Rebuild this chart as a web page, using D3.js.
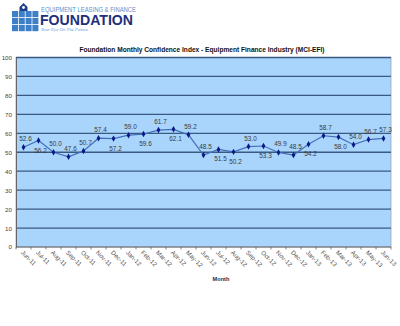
<!DOCTYPE html>
<html>
<head>
<meta charset="utf-8">
<script src="https://cdn.jsdelivr.net/npm/d3@7/dist/d3.min.js"></script>
<style>
  html, body { margin: 0; padding: 0; background: #ffffff; }
  svg { display: block; font-family: "Liberation Sans", Arial, sans-serif; }
</style>
</head>
<body>
<svg id="chart" width="400" height="326"></svg>
<script>
// Monthly index readings, June 2011 through June 2013
const months = ["Jun-11","Jul-11","Aug-11","Sep-11","Oct-11","Nov-11","Dec-11",
  "Jan-12","Feb-12","Mar-12","Apr-12","May-12","Jun-12","Jul-12","Aug-12","Sep-12",
  "Oct-12","Nov-12","Dec-12","Jan-13","Feb-13","Mar-13","Apr-13","May-13","Jun-13"];
const mciValues = [52.6, 56.2, 50.0, 47.6, 50.7, 57.4, 57.2, 59.0, 59.6, 61.7, 62.1, 59.2,
  48.5, 51.5, 50.2, 53.0, 53.3, 49.9, 48.5, 54.2, 58.7, 58.0, 54.0, 56.7, 57.3];
const yTicks = [0, 10, 20, 30, 40, 50, 60, 70, 80, 90, 100];

// Which side of its marker each value label sits on
const labelSide = ["up","down","up","up","up","up","down","up","down","up","down","up",
  "up","down","down","up","down","up","up","down","up","down","up","up","up"];

const svg = d3.select("#chart");

// ---- Logo block ----
const logo = svg.append("g");
const gridColor = "#3d80c8";
for (let r = 0; r < 3; r++) {
  for (let c = 0; c < 4; c++) {
    logo.append("rect")
      .attr("x", 12 + c * 6.8).attr("y", 11 + r * 7)
      .attr("width", 6).attr("height", 6.2)
      .attr("fill", gridColor);
  }
}
// little house on top of the grid
logo.append("path")
  .attr("d", "M19.5,11 L19.5,7 L23.5,3 L27.5,7 L27.5,11 Z")
  .attr("fill", "#1d3f8a");
logo.append("circle").attr("cx", 23.5).attr("cy", 7.5).attr("r", 1.4).attr("fill", "#ffffff");

logo.append("text")
  .attr("x", 41).attr("y", 11.5)
  .attr("font-size", 6.3).attr("fill", "#5b8fd0")
  .attr("textLength", 95).attr("lengthAdjust", "spacingAndGlyphs")
  .text("EQUIPMENT LEASING & FINANCE");
logo.append("text")
  .attr("x", 40).attr("y", 25)
  .attr("font-size", 14.2).attr("font-weight", "bold").attr("fill", "#1f2f7a")
  .attr("textLength", 93).attr("lengthAdjust", "spacingAndGlyphs")
  .text("FOUNDATION");
logo.append("text")
  .attr("x", 41).attr("y", 31)
  .attr("font-size", 4.8).attr("font-style", "italic").attr("fill", "#6a9ad6")
  .attr("font-family", "Liberation Serif, serif")
  .text("Your Eye On The Future");

// ---- Chart title ----
svg.append("text")
  .attr("x", 202).attr("y", 52)
  .attr("text-anchor", "middle")
  .attr("font-size", 6.6).attr("font-weight", "bold").attr("fill", "#111")
  .text("Foundation Monthly Confidence Index - Equipment Finance Industry (MCI-EFI)");

// ---- Plot area ----
const plot = { left: 16, right: 391, top: 57.5, bottom: 247 };

const x = d3.scaleBand().domain(months).range([plot.left, plot.right]);
const y = d3.scaleLinear().domain([0, 100]).range([plot.bottom, plot.top]);

svg.append("rect")
  .attr("x", plot.left).attr("y", plot.top)
  .attr("width", plot.right - plot.left).attr("height", plot.bottom - plot.top)
  .attr("fill", "#a9d5fd").attr("stroke", "#9aa6b2").attr("stroke-width", 0.8);

// horizontal gridlines
svg.append("g").selectAll("line")
  .data(yTicks.filter(d => d > 0))
  .join("line")
  .attr("x1", plot.left).attr("x2", plot.right)
  .attr("y1", d => y(d)).attr("y2", d => y(d))
  .attr("stroke", "#3a5a82").attr("stroke-width", 1.3);

// y axis
const yAxis = svg.append("g")
  .attr("transform", `translate(${plot.left},0)`)
  .call(d3.axisLeft(y).tickValues(yTicks).tickSize(0).tickPadding(4));
yAxis.select(".domain").attr("stroke", "#666").attr("stroke-width", 1);
yAxis.selectAll("text").attr("font-size", 6.2).attr("fill", "#444")
  .attr("font-family", "Liberation Sans, Arial, sans-serif");

// x axis with tick marks between categories
const xAxisG = svg.append("g").attr("transform", `translate(0,${plot.bottom})`);
xAxisG.append("line")
  .attr("x1", plot.left).attr("x2", plot.right)
  .attr("stroke", "#666").attr("stroke-width", 1);
xAxisG.selectAll("line.tick")
  .data(months.concat(["end"]))
  .join("line").attr("class", "tick")
  .attr("x1", (d, i) => plot.left + i * x.bandwidth())
  .attr("x2", (d, i) => plot.left + i * x.bandwidth())
  .attr("y1", 0).attr("y2", 2.5)
  .attr("stroke", "#666").attr("stroke-width", 0.8);
xAxisG.selectAll("text")
  .data(months)
  .join("text")
  .attr("transform", d => `translate(${x(d) + x.bandwidth() / 2 - 3},${6}) rotate(45)`)
  .attr("font-size", 6.2).attr("fill", "#555")
  .text(d => d);

svg.append("text")
  .attr("x", 221).attr("y", 281)
  .attr("text-anchor", "middle")
  .attr("font-size", 5.6).attr("font-weight", "bold").attr("fill", "#1e2a4a")
  .text("Month");

// ---- Series ----
const cx = i => x(months[i]) + x.bandwidth() / 2;

svg.append("path")
  .datum(mciValues)
  .attr("fill", "none")
  .attr("stroke", "#4470b8").attr("stroke-width", 1.2)
  .attr("d", d3.line().x((d, i) => cx(i)).y(d => y(d)));

svg.append("g").selectAll("path")
  .data(mciValues)
  .join("path")
  .attr("transform", (d, i) => `translate(${cx(i)},${y(d)})`)
  .attr("d", d3.symbol(d3.symbolDiamond, 12))
  .attr("fill", "#0b1a8a");

svg.append("g").selectAll("text")
  .data(mciValues)
  .join("text")
  .attr("x", (d, i) => cx(i) + 2)
  .attr("y", (d, i) => y(d) + (labelSide[i] === "up" ? -6 : 12))
  .attr("text-anchor", "middle")
  .attr("font-size", 6.4).attr("fill", "#3a3a3a")
  .text(d => d.toFixed(1));
</script>
</body>
</html>
